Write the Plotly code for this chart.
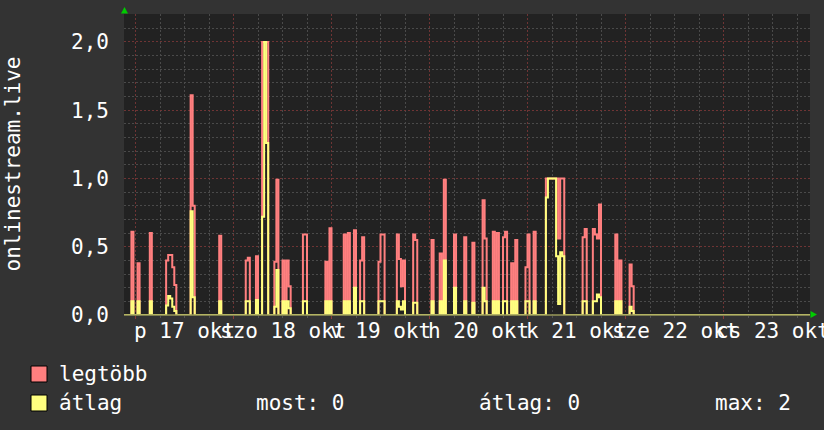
import numpy as np
import plotly.graph_objects as go

# ---------------- data (hours since Fri 17 Oct 00:00, 30-min samples) -------------
spike_hours = [-1.0, 0.5, 3.5, 7.5, 8.0, 8.5, 9.0, 9.5, 13.5, 14.0, 20.5, 27.0, 27.5,
               29.5, 31.0, 31.5, 32.0, 34.0, 34.5, 36.0, 37.0, 37.5, 41.0, 41.5, 46.5,
               47.5, 51.0, 52.0, 53.5, 55.0, 55.5, 59.5, 60.0, 60.5, 64.0, 64.5, 65.0,
               65.5, 68.0, 68.5, 72.5, 74.5, 75.5, 78.0, 80.5, 82.5, 85.0, 85.5, 87.5,
               88.5, 90.0, 90.5, 92.0, 93.0, 95.5, 96.0, 97.5, 100.5, 101.0, 101.5,
               102.0, 102.5, 103.0, 103.5, 104.0, 104.5, 109.5, 110.0, 112.0, 112.5,
               113.0, 113.5, 117.5, 118.5, 121.0, 121.5]
max_values = [0.61, 0.38, 0.60, 0.40, 0.44, 0.44, 0.35, 0.22, 1.61, 0.80, 0.58, 0.40, 0.42,
              0.43, 2.0, 2.0, 2.0, 0.39, 0.99, 0.40, 0.40, 0.21, 0.59, 0.59, 0.39,
              0.635, 0.59, 0.60, 0.62, 0.40, 0.57, 0.39, 0.59, 0.59, 0.59, 0.41, 0.21,
              0.40, 0.59, 0.55, 0.55, 0.45, 0.99, 0.59, 0.57, 0.53, 0.84, 0.56, 0.61,
              0.60, 0.57, 0.61, 0.38, 0.55, 0.35, 0.59, 0.61, 1.0, 1.0, 1.0,
              1.0, 1.0, 1.0, 0.56, 1.0, 1.0, 0.57, 0.63, 0.63, 0.59,
              0.56, 0.81, 0.59, 0.40, 0.37, 0.21]
avg_values = [0.10, 0.10, 0.10, 0.07, 0.14, 0.12, 0.06, 0.03, 0.76, 0.13, 0.10, 0.10, 0.10,
              0.11, 0.72, 2.0, 1.26, 0.06, 0.33, 0.10, 0.10, 0.05, 0.10, 0.10, 0.10,
              0.10, 0.10, 0.10, 0.20, 0.10, 0.10, 0.10, 0.10, 0.10, 0.10, 0.06, 0.04,
              0.10, 0.09, 0.09, 0.10, 0.10, 0.40, 0.20, 0.10, 0.09, 0.20, 0.10, 0.10,
              0.10, 0.10, 0.10, 0.10, 0.10, 0.10, 0.10, 0.10, 0.86, 1.0, 1.0,
              1.0, 1.0, 0.43, 0.08, 0.46, 0.43, 0.10, 0.10, 0.10, 0.10,
              0.15, 0.13, 0.10, 0.10, 0.06, 0.03]

day_labels = ["p 17 okt", "szo 18 okt", "v 19 okt", "h 20 okt",
              "k 21 okt", "sze 22 okt", "cs 23 okt"]
y_tick_vals = [0, 0.5, 1.0, 1.5, 2.0]
y_tick_text = ["0,0", "0,5", "1,0", "1,5", "2,0"]
y_title = "onlinestream.live"
legend_names = ["legtöbb", "átlag"]
legend_stats = ["most: 0", "átlag: 0", "max: 2"]

# ---------------- build series on the 30-min grid ----------------
grid = np.arange(-3.0, 166.5, 0.5)
max_series = np.zeros_like(grid)
avg_series = np.zeros_like(grid)
for h, m, a in zip(spike_hours, max_values, avg_values):
    i = int(round((h - grid[0]) * 2))
    max_series[i] = m
    avg_series[i] = a

# ---------------- layout geometry ----------------
W, H = 824, 430
L, R, T, B = 124, 14, 14, 115
PW, PH = W - L - R, H - T - B
X0, X1 = -2.816, 165.18


def px(x):
    return (x - L) / PW


def py(y):
    return (H - B - y) / PH


FONT = "DejaVu Sans Mono"
RED = "#ff7f7f"
YEL = "#ffff7f"
MINOR = "#4a4a4a"
MAJOR = "#6e3434"

fig = go.Figure()
fig.add_trace(go.Scatter(x=grid, y=max_series, mode="lines", line_shape="hv",
                         line=dict(color=RED, width=2), name=legend_names[0],
                         hoverinfo="skip"))
fig.add_trace(go.Scatter(x=grid, y=avg_series, mode="lines", line_shape="hv",
                         line=dict(color=YEL, width=2), name=legend_names[1],
                         hoverinfo="skip"))

fig.update_layout(
    width=W, height=H,
    margin=dict(l=L, r=R, t=T, b=B, pad=0),
    paper_bgcolor="#333333",
    plot_bgcolor="#222222",
    showlegend=False,
    font=dict(family=FONT, size=21, color="#ffffff"),
    xaxis=dict(range=[X0, X1], tick0=0, dtick=24, showgrid=True,
               gridcolor=MAJOR, griddash="2px,2px", gridwidth=1,
               ticks="outside", ticklen=3, tickcolor="#8a3a3a",
               showticklabels=False, zeroline=False, showline=False,
               minor=dict(dtick=6, tick0=0, showgrid=True, gridcolor=MINOR,
                          griddash="2px,2px", ticks="outside", ticklen=2,
                          tickcolor="#555555")),
    yaxis=dict(range=[0, 2.205], tickvals=y_tick_vals, ticktext=y_tick_text,
               showgrid=True, gridcolor=MAJOR, griddash="2px,2px", gridwidth=1,
               zeroline=False, showline=False, ticks="",
               ticklabelstandoff=14,
               tickfont=dict(family=FONT, size=21, color="#ffffff"),
               minor=dict(dtick=0.1, tick0=0, showgrid=True, gridcolor=MINOR,
                          griddash="2px,2px")),
)

shapes = []
# baseline (axis)
shapes.append(dict(type="line", xref="paper", yref="paper", x0=0, x1=1, y0=0, y1=0,
                   line=dict(color="#9a9a5a", width=1.5), layer="above"))
# green arrows
shapes.append(dict(type="path", xref="paper", yref="paper", layer="above",
                   path=f"M {px(121)},{py(13.5)} L {px(128)},{py(13.5)} L {px(124.5)},{py(7)} Z",
                   fillcolor="#00cc00", line=dict(width=0)))
shapes.append(dict(type="path", xref="paper", yref="paper", layer="above",
                   path=f"M {px(810.5)},{py(311)} L {px(810.5)},{py(318)} L {px(817)},{py(314.5)} Z",
                   fillcolor="#00cc00", line=dict(width=0)))
# legend boxes
for (y0, y1), col in zip([(366, 382), (395, 411)], [RED, YEL]):
    shapes.append(dict(type="rect", xref="paper", yref="paper",
                       x0=px(31), x1=px(47), y0=py(y1), y1=py(y0),
                       fillcolor=col, line=dict(color="#000000", width=1)))
fig.update_layout(shapes=shapes)

ann = []
# x-axis day labels centred at noon
for k, lab in enumerate(day_labels):
    ann.append(dict(x=12 + 24 * k, xref="x", y=py(331), yref="paper", text=lab,
                    showarrow=False, xanchor="center", yanchor="middle",
                    font=dict(family=FONT, size=21, color="#ffffff")))
# y title
ann.append(dict(x=px(12), xref="paper", y=py(164.5), yref="paper", text=y_title,
                textangle=-90, showarrow=False, xanchor="center", yanchor="middle",
                font=dict(family=FONT, size=21, color="#ffffff")))
# legend texts
ann.append(dict(x=px(57), xref="paper", y=py(374), yref="paper", text=legend_names[0],
                showarrow=False, xanchor="left", yanchor="middle"))
ann.append(dict(x=px(57), xref="paper", y=py(403), yref="paper", text=legend_names[1],
                showarrow=False, xanchor="left", yanchor="middle"))
for xs, txt in zip([254, 477, 713], legend_stats):
    ann.append(dict(x=px(xs), xref="paper", y=py(403), yref="paper", text=txt,
                    showarrow=False, xanchor="left", yanchor="middle"))
for a in ann:
    a.setdefault("font", dict(family=FONT, size=21, color="#ffffff"))
fig.update_layout(annotations=ann)

fig.write_html("out.html",
               config={"displayModeBar": False},
               post_script="document.body.style.margin='0';"
                           "document.body.style.background='#333333';")
